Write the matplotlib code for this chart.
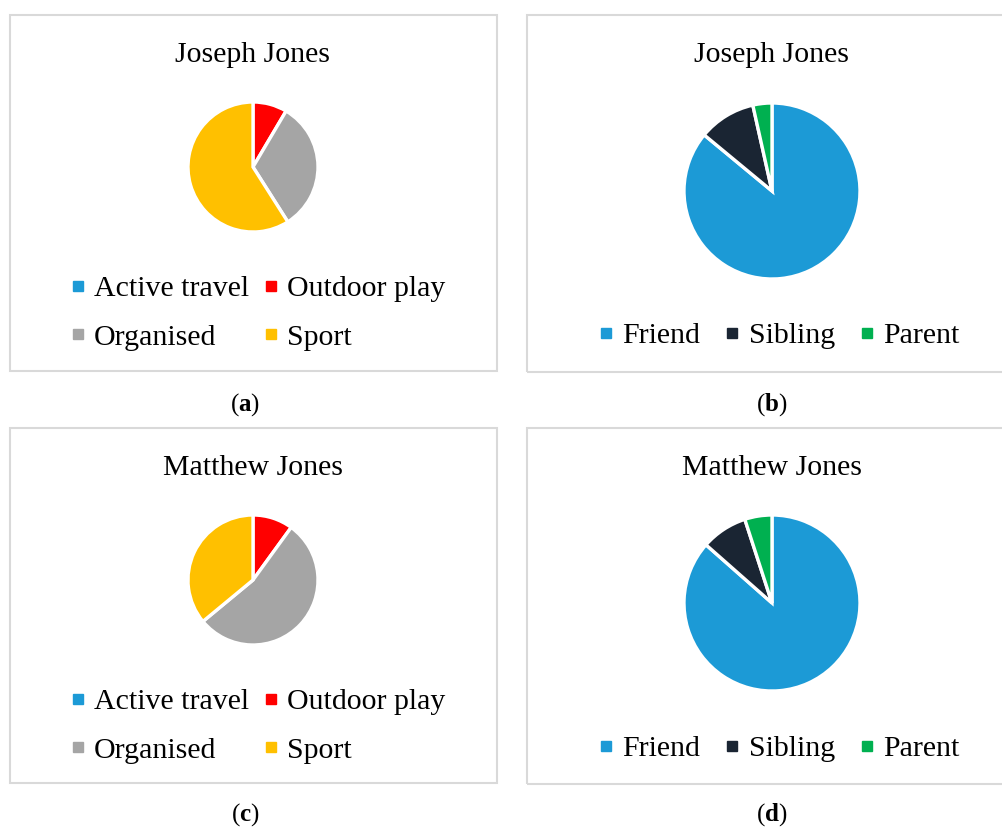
import matplotlib.pyplot as plt
from matplotlib.patches import Rectangle
from matplotlib.lines import Line2D

plt.rcParams['font.family'] = ['Liberation Serif', 'DejaVu Serif']
plt.rcParams['mathtext.fontset'] = 'custom'
plt.rcParams['mathtext.rm'] = 'Liberation Serif'
plt.rcParams['mathtext.bf'] = 'Liberation Serif:bold'

# data (percent)
activity_labels = ['Active travel', 'Outdoor play', 'Organised', 'Sport']
activity_colors = ['#1c9ad6', '#ff0000', '#a5a5a5', '#ffc000']
joseph_activity = [0, 8.5, 32.5, 59]
matthew_activity = [0, 10, 54, 36]

company_labels = ['Friend', 'Sibling', 'Parent']
company_colors = ['#1c9ad6', '#1a2533', '#00b050']
joseph_company = [86, 10.5, 3.5]
matthew_company = [86.5, 8.5, 5]

W, H = 1003, 832
fig = plt.figure(figsize=(W / 100, H / 100), dpi=100)


def fbox(x0, y0, x1, y1):
    # pixel box (top-left origin) -> figure fraction rect
    return [x0 / W, 1 - y1 / H, (x1 - x0) / W, (y1 - y0) / H]


def fpt(x, y):
    return x / W, 1 - y / H


panels = [
    # box, title, title y, pie centre, radius, values, labels, colors, legend centre, ncol, colspacing, tag
    ((10, 15, 497, 371), 'Joseph Jones', 55, (253, 167), 65,
     joseph_activity, activity_labels, activity_colors, (258, 313), 2, 0.48, 'a'),
    ((527, 15, 1010, 372), 'Joseph Jones', 55, (772, 191), 88,
     joseph_company, company_labels, company_colors, (779, 336), 3, 0.82, 'b'),
    ((10, 428, 497, 783), 'Matthew Jones', 468, (253, 580), 65,
     matthew_activity, activity_labels, activity_colors, (258, 726), 2, 0.48, 'c'),
    ((527, 428, 1010, 784), 'Matthew Jones', 468, (772, 603), 88,
     matthew_company, company_labels, company_colors, (779, 749), 3, 0.82, 'd'),
]

for (box, title, ty, (cx, cy), r, vals, labels, colors, (lx, ly), ncol, csp, tag) in panels:
    x0, y0, x1, y1 = box
    fig.patches.append(Rectangle(fbox(x0, y0, x1, y1)[:2], (x1 - x0) / W, (y1 - y0) / H,
                                 transform=fig.transFigure, fill=False,
                                 edgecolor='#d9d9d9', lw=1.5))
    fig.text(*fpt(cx, ty), title, ha='center', va='center', fontsize=21.5)

    ax = fig.add_axes(fbox(cx - r, cy - r, cx + r, cy + r))
    ax.pie(vals, colors=colors, startangle=90, counterclock=False,
           wedgeprops=dict(edgecolor='white', linewidth=2.4))
    ax.set_xlim(-1, 1)
    ax.set_ylim(-1, 1)
    ax.set_aspect('equal')
    ax.axis('off')

    handles = [Line2D([], [], marker='s', linestyle='none', markersize=6.5,
                      markerfacecolor=c, markeredgecolor=c) for c in colors]
    order = list(range(len(labels)))
    if ncol == 2:
        # row-major order like the original legend
        order = [0, 2, 1, 3]
    fig.legend([handles[i] for i in order], [labels[i] for i in order],
               loc='center', bbox_to_anchor=fpt(lx, ly),
               ncol=ncol, frameon=False, fontsize=21.5, handlelength=0.5,
               handletextpad=0.3, columnspacing=csp, labelspacing=0.72,
               borderpad=0)

    fig.text(*fpt(cx - 8 if ncol == 2 else cx, 405 if y0 < 400 else 815),
             r'($\mathbf{' + tag + r'}$)', ha='center', va='center', fontsize=18)

fig.savefig('out.png', dpi=100)
